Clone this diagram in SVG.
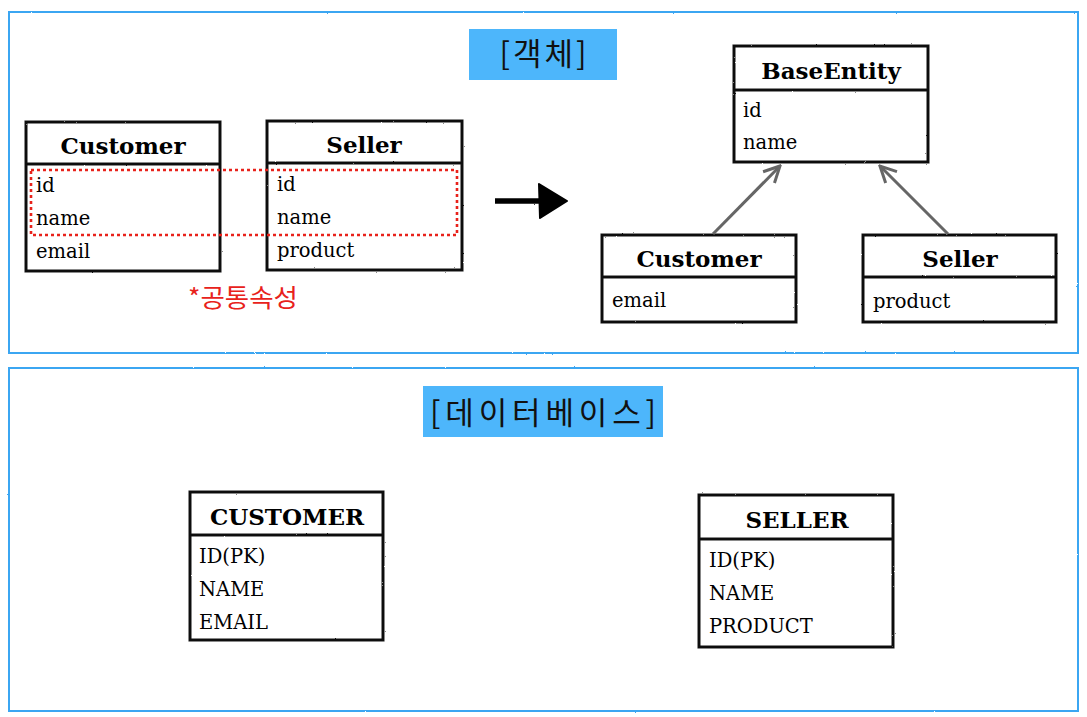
<svg xmlns="http://www.w3.org/2000/svg" width="1087" height="717" viewBox="0 0 1087 717">
<defs>
<filter id="rough" filterUnits="userSpaceOnUse" x="0" y="0" width="1087" height="717">
<feTurbulence type="fractalNoise" baseFrequency="0.9" numOctaves="2" seed="3"/>
<feDisplacementMap in="SourceGraphic" scale="1.6"/>
</filter>
<marker id="inh" viewBox="0 0 20 20" refX="18" refY="10" markerWidth="20" markerHeight="20" markerUnits="userSpaceOnUse" orient="auto">
<path d="M2,2 L18,10 L2,18" fill="none" stroke="#666" stroke-width="3" stroke-linejoin="miter"/>
</marker>
</defs>
<style>
.panel{fill:none;stroke:#3aa6f2;stroke-width:2}
.tag{fill:#4db6fb}
.tagtxt{font-family:"Noto Sans CJK KR","Noto Sans",sans-serif;font-size:31px;fill:#111;text-anchor:middle}
.box{fill:#fff;stroke:#111;stroke-width:3}
.sep{stroke:#111;stroke-width:3}
.ttl{font-family:"DejaVu Serif",serif;font-weight:bold;font-size:23px;fill:#000;text-anchor:middle}
.row{font-family:"DejaVu Serif",serif;font-size:19.5px;fill:#000}
.inh{stroke:#666;stroke-width:3;fill:none}
</style>

<g id="panel-object">
<rect class="panel" x="9" y="12" width="1069" height="341" filter="url(#rough)"/>
<rect class="tag" x="469" y="29" width="148" height="51"/>
<text class="tagtxt" x="543" y="65" textLength="87" lengthAdjust="spacing">[객체]</text>
</g>
<g id="panel-db">
<rect class="panel" x="9" y="368" width="1069" height="343" filter="url(#rough)"/>
<rect class="tag" x="423" y="386" width="240" height="51"/>
<text class="tagtxt" x="543" y="424" textLength="226" lengthAdjust="spacing">[데이터베이스]</text>
</g>

<g id="obj-customer">
<rect class="box" x="26" y="122" width="194" height="149" filter="url(#rough)"/>
<line class="sep" x1="26" y1="164" x2="220" y2="164" filter="url(#rough)"/>
<text class="ttl" x="123" y="154">Customer</text>
<text class="row" x="36" y="192">id</text>
<text class="row" x="36" y="225">name</text>
<text class="row" x="36" y="258">email</text>
</g>

<g id="obj-seller">
<rect class="box" x="267" y="121" width="195" height="149" filter="url(#rough)"/>
<line class="sep" x1="267" y1="163" x2="462" y2="163" filter="url(#rough)"/>
<text class="ttl" x="364" y="153">Seller</text>
<text class="row" x="277" y="191">id</text>
<text class="row" x="277" y="224">name</text>
<text class="row" x="277" y="257">product</text>
</g>

<g id="common-attrs">
<rect x="31" y="170" width="426" height="65" fill="none" stroke="#e8221b" stroke-width="2.6" stroke-dasharray="3 3"/>
<text x="188" y="307" font-family="Noto Sans CJK KR,Noto Sans,sans-serif" font-size="25" fill="#e8221b" textLength="110" lengthAdjust="spacingAndGlyphs">*공통속성</text>
</g>

<g id="base-entity">
<rect class="box" x="734" y="46" width="194" height="116" filter="url(#rough)"/>
<line class="sep" x1="734" y1="90" x2="928" y2="90" filter="url(#rough)"/>
<text class="ttl" x="831" y="79">BaseEntity</text>
<text class="row" x="743" y="117">id</text>
<text class="row" x="743" y="149">name</text>
</g>

<g id="sub-customer">
<rect class="box" x="602" y="235" width="194" height="87" filter="url(#rough)"/>
<line class="sep" x1="602" y1="277" x2="796" y2="277" filter="url(#rough)"/>
<text class="ttl" x="699" y="267">Customer</text>
<text class="row" x="612" y="307">email</text>
</g>

<g id="sub-seller">
<rect class="box" x="863" y="235" width="193" height="87" filter="url(#rough)"/>
<line class="sep" x1="863" y1="277" x2="1056" y2="277" filter="url(#rough)"/>
<text class="ttl" x="960" y="267">Seller</text>
<text class="row" x="873" y="308">product</text>
</g>

<g id="db-customer">
<rect class="box" x="190" y="492" width="193" height="148" filter="url(#rough)"/>
<line class="sep" x1="190" y1="535" x2="383" y2="535" filter="url(#rough)"/>
<text class="ttl" x="287" y="525">CUSTOMER</text>
<text class="row" x="199" y="563">ID(PK)</text>
<text class="row" x="199" y="596">NAME</text>
<text class="row" x="199" y="629">EMAIL</text>
</g>

<g id="db-seller">
<rect class="box" x="699" y="495" width="194" height="152" filter="url(#rough)"/>
<line class="sep" x1="699" y1="539" x2="893" y2="539" filter="url(#rough)"/>
<text class="ttl" x="797" y="528">SELLER</text>
<text class="row" x="709" y="567">ID(PK)</text>
<text class="row" x="709" y="600">NAME</text>
<text class="row" x="709" y="633">PRODUCT</text>
</g>

<g id="connectors">
<line x1="495" y1="201" x2="545" y2="201" stroke="#000" stroke-width="5.5" filter="url(#rough)"/>
<path d="M539,184 L567,201 L540,218 Z" fill="#000" stroke="#000" stroke-width="2" stroke-linejoin="round" filter="url(#rough)"/>
<line class="inh" x1="713" y1="234" x2="780" y2="166" marker-end="url(#inh)"/>
<line class="inh" x1="948" y1="234" x2="880" y2="166" marker-end="url(#inh)"/>
</g>
</svg>
